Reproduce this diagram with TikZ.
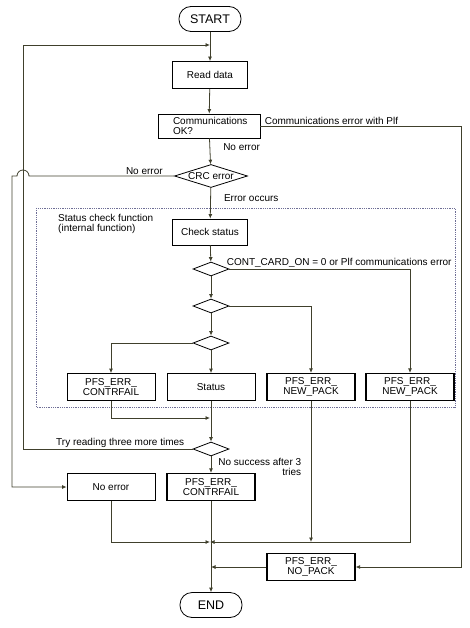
\documentclass[tikz,border=0pt]{standalone}
\usepackage{fontspec}
\setmainfont{Liberation Sans}
\usetikzlibrary{shapes.geometric,arrows.meta}

\definecolor{olive}{RGB}{64,64,44}
\definecolor{dotblue}{RGB}{110,110,150}

\tikzstyle{term} = [rectangle, rounded corners=12pt, minimum width=62pt, minimum height=25pt, text centered, draw=black, line width=0.8pt, font=\fontsize{12.5}{13}\selectfont]
\tikzstyle{process} = [rectangle, minimum width=88pt, minimum height=27pt, inner sep=0pt, align=center, draw=black, line width=0.8pt]
\tikzstyle{decision} = [diamond, aspect=2.6, minimum width=36pt, minimum height=14pt, inner sep=0pt, draw=black, line width=0.8pt]
\tikzstyle{arrow} = [->, >={Latex[length=4.5pt,width=4pt]}, draw=olive, line width=0.8pt]
\tikzstyle{note} = [inner sep=1pt, align=left]

\begin{document}
\begin{tikzpicture}[x=1pt, y=-1pt, font=\fontsize{10}{10.5}\selectfont]
		\useasboundingbox (0,0) rectangle (469,628);
		% Nodes
		\node (start) [term] at (210,19) {START};
		\node (read) [process, minimum width=75pt] at (210,75) {Read data};
		\node (comm) [process, minimum width=102pt, minimum height=24pt, text width=72pt, align=left] at (209,126) {Communications\\OK?};
		\node (crc) [decision, aspect=3.2, minimum width=73pt, minimum height=23pt] at (211,176) {CRC error};
		\node (check) [process, minimum width=75pt, minimum height=26pt] at (210,232) {Check status};
		\node (card) [decision] at (211,269) {};
		\node (pack) [decision] at (211,306) {};
		\node (fail) [decision] at (211,343) {};
		\node (cfail) [process] at (111,387) {PFS\_ERR\_\\CONTRFAIL};
		\node (status) [process] at (211,387) {Status};
		\node (newpack) [process, line width=1.2pt] at (311,387) {PFS\_ERR\_\\NEW\_PACK};
		\node (newpack2) [process, line width=1.2pt] at (410,387) {PFS\_ERR\_\\NEW\_PACK};
		\node (retry) [decision] at (211,449) {};
		\node (noerr) [process] at (111,487) {No error};
		\node (cfail2) [process, line width=1.2pt] at (211,487) {PFS\_ERR\_\\CONTRFAIL};
		\node (nopack) [process, line width=1.2pt] at (311,567) {PFS\_ERR\_\\NO\_PACK};
		\node (end) [term] at (211,605) {END};
		\coordinate (loop) at (210,45);
		\coordinate (loopcorner) at (23,45);
		\coordinate (hop) at (29,176);
		\coordinate (bypass) at (12,176);
		\coordinate (commerr) at (461,126);
		\coordinate (join) at (210,418);
		\coordinate (merge) at (210,542);
		\coordinate (mergeN) at (311,542);
		% Status check function frame
		\draw[dotblue, densely dotted, line width=0.8pt] (36,208) rectangle (455,407);
		\node[note, anchor=north west] at (57,213) {Status check function\\(internal function)};
		% Arrows
		\draw [arrow] (start) -- (read);
		\draw [arrow] (read) -- (comm);
		\draw [arrow] (comm) -- node[note, anchor=west, pos=0.35, xshift=12pt] {No error} (crc);
		\draw [arrow] (comm.east) -- node[note, anchor=south west, pos=0, xshift=3pt] {Communications error with Plf} (commerr) |- (nopack.east);
		\draw [arrow] (crc) -- node[note, anchor=west, pos=0.35, xshift=12pt] {Error occurs} (check);
		\draw [arrow] (crc.west) -- node[note, anchor=south east, pos=0, xshift=-10pt] {No error} (hop) arc[start angle=0, end angle=180, radius=6pt] -- (bypass) |- (noerr.west);
		\draw [arrow] (check) -- (card);
		\draw [arrow] (card.east) -| node[note, anchor=south west, pos=0, xshift=-4pt] {CONT\_CARD\_ON = 0 or Plf communications error} (newpack2.north);
		\draw [arrow] (card) -- (pack);
		\draw [arrow] (pack.east) -| (newpack.north);
		\draw [arrow] (pack) -- (fail);
		\draw [arrow] (fail.west) -| (cfail.north);
		\draw [arrow] (fail) -- (status);
		\draw [arrow] (cfail.south) |- (join);
		\draw [arrow] (status) -- (retry);
		\draw [arrow] (retry.west) -- node[note, anchor=south east, pos=0, xshift=-7pt] {Try reading three more times} (retry.west -| loopcorner) -- (loopcorner) -- (loop);
		\draw [arrow] (retry) -- node[note, anchor=north west, align=right, pos=0, xshift=6pt] {No success after 3\\tries} (cfail2);
		\draw [arrow] (noerr.south) |- (merge);
		\draw [arrow] (newpack2.south) |- (merge);
		\draw [arrow] (newpack.south) -- (mergeN);
		\draw [arrow] (cfail2) -- (end);
		\draw [arrow] (nopack.west) -- (nopack.west -| end);
	\end{tikzpicture}
\end{document}
